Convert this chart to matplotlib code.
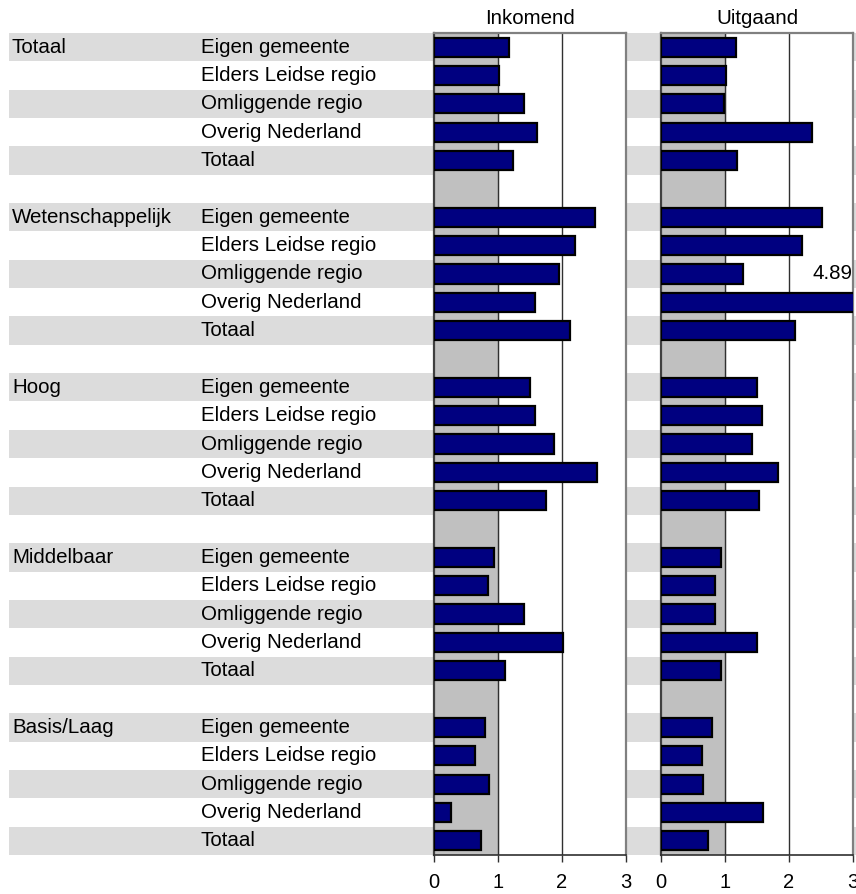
import numpy as np
import matplotlib.pyplot as plt

plt.rcParams['font.family'] = ['Liberation Sans', 'DejaVu Sans']

groups = ['Totaal', 'Wetenschappelijk', 'Hoog', 'Middelbaar', 'Basis/Laag']
regions = ['Eigen gemeente', 'Elders Leidse regio', 'Omliggende regio', 'Overig Nederland', 'Totaal']

inkomend = [
    [1.17, 1.01, 1.41, 1.61, 1.24],
    [2.52, 2.21, 1.96, 1.58, 2.12],
    [1.50, 1.58, 1.87, 2.54, 1.75],
    [0.94, 0.85, 1.41, 2.02, 1.11],
    [0.79, 0.64, 0.86, 0.26, 0.74],
]
uitgaand = [
    [1.17, 1.01, 0.99, 2.36, 1.18],
    [2.52, 2.20, 1.28, 4.89, 2.09],
    [1.50, 1.58, 1.42, 1.83, 1.53],
    [0.94, 0.85, 0.84, 1.50, 0.94],
    [0.80, 0.64, 0.65, 1.59, 0.74],
]
panel_titles = ['Inkomend', 'Uitgaand']

W, H = 856, 894
n_rows = len(groups) * 6 - 1
rows = np.array([g * 6 + r for g in range(len(groups)) for r in range(len(regions))])
fs = 14.8

fig = plt.figure(figsize=(W / 100, H / 100), dpi=100)
top_px, bot_px = 33, 855
ax_b = 1 - bot_px / H
ax_h = (bot_px - top_px) / H

# background: stripes + row labels
bg = fig.add_axes([0, ax_b, 1, ax_h])
bg.set_xlim(0, W)
bg.set_ylim(n_rows - 0.5, -0.5)
bg.axis('off')
stripe_rows = np.arange(0, n_rows, 2)
bg.barh(stripe_rows, W - 9, left=9, height=1.0, color='#dcdcdc', lw=0)
for g, name in enumerate(groups):
    bg.text(12, g * 6, name, fontsize=fs, va='center', ha='left')
    for r, reg in enumerate(regions):
        bg.text(201, g * 6 + r, reg, fontsize=fs, va='center', ha='left')

panels = [(434, 626), (661, 853)]
for (x0, x1), vals, title in zip(panels, [inkomend, uitgaand], panel_titles):
    ax = fig.add_axes([x0 / W, ax_b, (x1 - x0) / W, ax_h])
    ax.set_xlim(0, 3)
    ax.set_ylim(n_rows - 0.5, -0.5)
    ax.set_facecolor('white')
    ax.axvspan(0, 1, color='#c0c0c0', zorder=0)
    for x in [1, 2]:
        ax.axvline(x, color='#303030', lw=1, zorder=1)
    v = np.array(vals).ravel()
    ax.barh(rows, v, height=0.68, color='#000080', edgecolor='black', lw=1.6, zorder=3)
    for rr, val in zip(rows, v):
        if val > 3:
            ax.text(2.99, rr - 1, f'{val:.2f}', fontsize=fs, ha='right', va='center', zorder=4)
    ax.set_yticks([])
    ax.set_xticks([0, 1, 2, 3])
    ax.tick_params(axis='x', direction='out', length=5, width=1, pad=8,
                   labelsize=14.5, color='#303030')
    for s in ['top', 'right']:
        ax.spines[s].set_color('#808080')
        ax.spines[s].set_linewidth(1.6)
    ax.spines['left'].set_color('#404040')
    ax.spines['left'].set_linewidth(1.6)
    ax.spines['bottom'].set_color('#303030')
    ax.spines['bottom'].set_linewidth(1.2)
    fig.text((x0 + x1) / 2 / W, 1 - 18 / H, title, fontsize=fs, ha='center', va='center')

fig.savefig('out.png', dpi=100)
